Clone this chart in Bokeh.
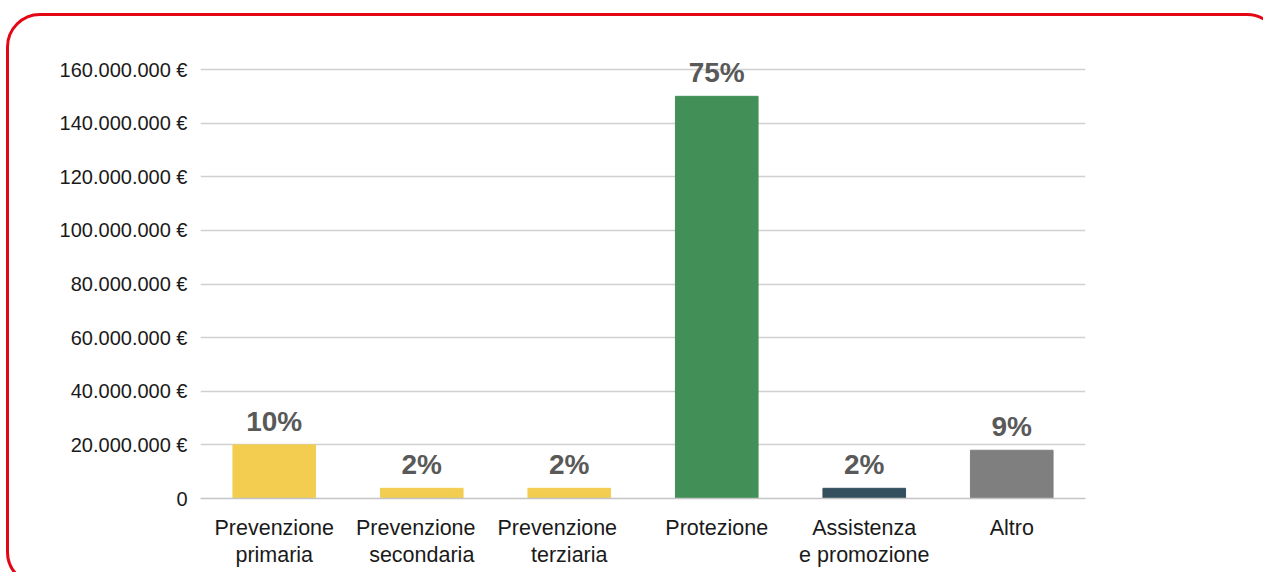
from bokeh.plotting import figure
from bokeh.models import (ColumnDataSource, FactorRange, Range1d, FixedTicker, CategoricalAxis,
                          InlineStyleSheet)
from bokeh.core.properties import value
from bokeh.embed import file_html
from bokeh.resources import INLINE

categories = ["Prevenzione primaria", "Prevenzione secondaria", "Prevenzione terziaria",
              "Protezione", "Assistenza e promozione", "Altro"]
# two-line category labels (first line / second line); padding spaces only keep factors unique
label_line1 = ["Prevenzione", " Prevenzione ", "  Prevenzione  ", "Protezione", "Assistenza", "Altro"]
label_line2 = ["primaria", "secondaria", "terziaria", " ", "e promozione", "  "]
amounts = [20000000, 3800000, 3800000, 150000000, 3800000, 18000000]
percent_labels = ["10%", "2%", "2%", "75%", "2%", "9%"]
bar_colors = ["#F2CD4F", "#F2CD4F", "#F2CD4F", "#428F57", "#34505F", "#7F7F7F"]
tick_values = [0, 20000000, 40000000, 60000000, 80000000, 100000000, 120000000, 140000000, 160000000]
tick_labels = ["0", "20.000.000 €", "40.000.000 €", "60.000.000 €", "80.000.000 €",
               "100.000.000 €", "120.000.000 €", "140.000.000 €", "160.000.000 €"]

FONT = "Liberation Sans"

source = ColumnDataSource(dict(cat=categories, amount=amounts, pct=percent_labels, color=bar_colors))

css = """
:host { position: relative; overflow: hidden; }
:host::after {
  content: ""; position: absolute; left: 6px; top: 13px; width: 1275px; height: 573px;
  box-sizing: border-box; border: 3px solid #E30613; border-radius: 34px; pointer-events: none;
}
"""

p = figure(x_range=FactorRange(*categories), y_range=Range1d(0, 174550000),
           width=1263, height=572, output_backend="svg", toolbar_location=None,
           min_border_left=200, min_border_right=178, min_border_top=30, min_border_bottom=74,
           x_axis_location=None, stylesheets=[InlineStyleSheet(css=css)])
p.extra_x_ranges = {"line1": FactorRange(*label_line1), "line2": FactorRange(*label_line2)}

p.vbar(x="cat", top="amount", width=0.56, color="color", source=source)
p.text(x="cat", y="amount", text="pct", source=source, text_align="center", text_baseline="bottom",
       y_offset=-8, text_font=value(FONT), text_font_style="bold", text_font_size="28px",
       text_color="#595959")

p.outline_line_color = None
p.xgrid.grid_line_color = None
p.ygrid.grid_line_color = "#D0D0D0"
p.ygrid.grid_line_width = 1.5
p.ygrid.ticker = FixedTicker(ticks=tick_values)

p.yaxis.ticker = FixedTicker(ticks=tick_values)
p.yaxis.major_label_overrides = {v: l for v, l in zip(tick_values, tick_labels)}
p.yaxis.axis_line_color = None
p.yaxis.major_tick_line_color = None
p.yaxis.major_tick_out = 0
p.yaxis.minor_tick_line_color = None
p.yaxis.major_label_standoff = 13
p.yaxis.major_label_text_font = FONT
p.yaxis.major_label_text_font_size = "20px"
p.yaxis.major_label_text_color = "#1A1A1A"


def make_xaxis(range_name, standoff, line_color):
    ax = CategoricalAxis(x_range_name=range_name)
    ax.axis_line_color = line_color
    ax.axis_line_width = 1.5
    ax.major_tick_line_color = None
    ax.minor_tick_line_color = None
    ax.major_tick_out = 0
    ax.major_tick_in = 0
    ax.major_label_standoff = standoff
    ax.major_label_text_font = FONT
    ax.major_label_text_font_size = "21.5px"
    ax.major_label_text_color = "#1A1A1A"
    return ax


p.add_layout(make_xaxis("line1", 17, "#C4C4C4"), "below")
p.add_layout(make_xaxis("line2", 0, None), "below")

open("out.html", "w").write(file_html(p, INLINE))
